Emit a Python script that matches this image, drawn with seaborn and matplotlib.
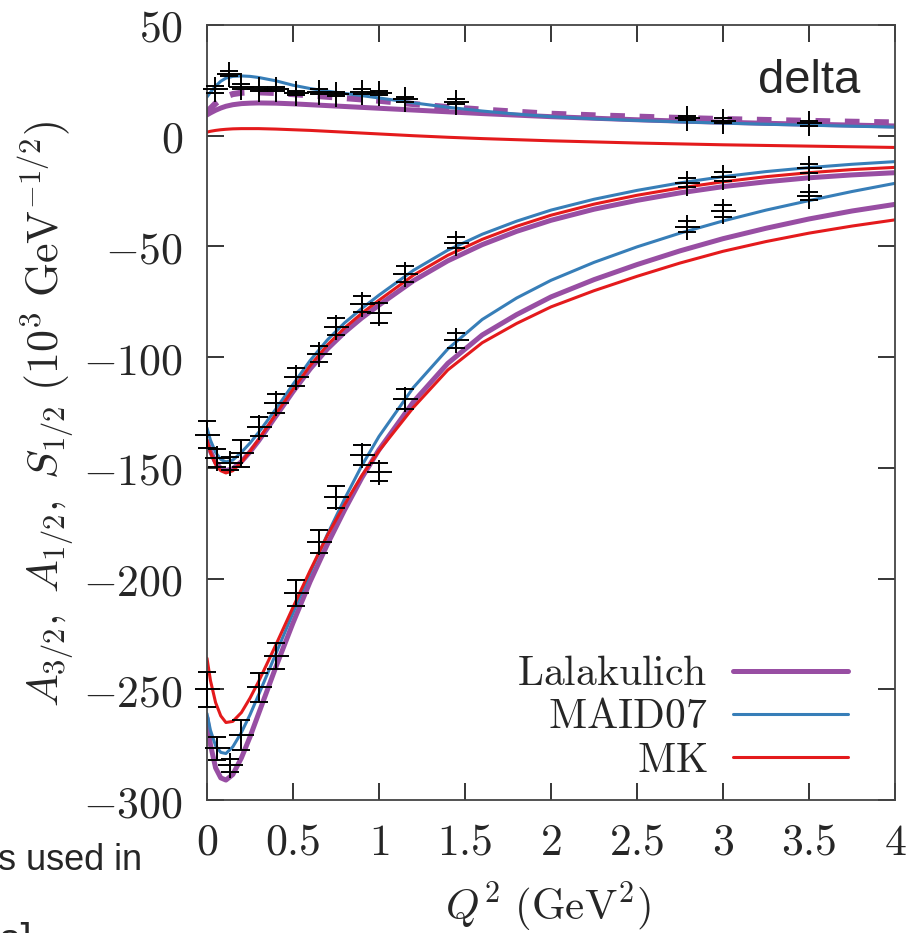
import matplotlib
matplotlib.use("Agg")
import matplotlib.pyplot as plt
from matplotlib.ticker import FuncFormatter, MultipleLocator
import seaborn as sns
import pandas as pd

# ---------------------------------------------------------------- data
# Q^2 grid (GeV^2) on which the model curves are tabulated
q2_curve = [0, 0.02, 0.05, 0.08, 0.11, 0.15, 0.2, 0.25, 0.3, 0.4, 0.5, 0.6, 0.7,
            0.8, 0.9, 1.0, 1.2, 1.4, 1.6, 1.8, 2.0, 2.25, 2.5, 2.75, 3.0, 3.25,
            3.5, 3.75, 4.0]

# S_1/2 - like (upper) curves
s_maid = [17.5, 19.6, 22.4, 24.6, 26.0, 26.8, 27.0, 26.8, 26.3, 24.8, 22.8, 21.3, 20.1,
          19.1, 18.1, 17.05, 14.85, 12.85, 11.15, 9.75, 8.6, 7.65, 6.9, 6.25, 5.7, 5.2,
          4.75, 4.3, 3.9]
s_lala_dash = [10.5, 12.3, 14.6, 16.4, 17.7, 18.8, 19.4, 19.6, 19.6, 19.3, 18.8, 18.2, 17.6,
               17.0, 16.4, 15.8, 14.3, 12.9, 11.8, 10.8, 9.9, 9.2, 8.6, 8.0, 7.5, 7.1,
               6.7, 6.3, 6.0]
s_lala = [9.4, 10.3, 11.5, 12.5, 13.3, 14.0, 14.5, 14.7, 14.8, 14.7, 14.4, 14.0, 13.6,
          13.2, 12.8, 12.4, 11.6, 10.8, 10.0, 9.3, 8.6, 7.9, 7.2, 6.6, 6.1, 5.6,
          5.2, 4.8, 4.4]
s_mk = [1.6, 2.0, 2.4, 2.7, 2.9, 3.1, 3.2, 3.2, 3.2, 3.0, 2.7, 2.4, 2.0,
        1.6, 1.2, 0.8, 0.0, -0.7, -1.3, -1.8, -2.3, -2.8, -3.3, -3.7, -4.1, -4.4,
        -4.7, -5.0, -5.3]

# A_1/2 curves
a12_maid = [-132, -137.5, -143, -146.2, -147.3, -146.5, -143, -138.8, -134, -123.5, -112.3,
            -101.5, -92.2, -84.5, -78, -72, -60.8, -51.7, -44.5, -38.6, -33.6, -28.7,
            -24.7, -21.3, -18.5, -16.2, -14.4, -12.9, -11.7]
a12_mk = [-137.4, -143, -148.5, -151.3, -152.3, -151.3, -147.5, -142.5, -137.2, -125.8,
          -114.5, -103.8, -94.5, -86.8, -80.2, -74.3, -63.0, -54.0, -46.8, -40.9, -35.9,
          -30.9, -26.9, -23.6, -20.8, -18.5, -16.7, -15.3, -14.3]
a12_lala = [-138, -142.5, -147.5, -150.3, -151.2, -150.4, -147.2, -142.8, -137.8, -126.7,
            -115.6, -105.3, -96.3, -88.8, -82.3, -76.5, -65.5, -56.5, -49.2, -43.2, -38.2,
            -33.2, -29.2, -25.8, -23.0, -20.8, -19.0, -17.7, -16.7]

# A_3/2 curves
a32_maid = [-261, -268.5, -275.5, -278.5, -279, -276, -269.5, -261.5, -252.5, -234, -215.5,
            -197.3, -180, -164, -149, -135.8, -113.7, -96.3, -83, -73.3, -65.3, -57.2,
            -50.2, -44.0, -38.5, -33.6, -29.3, -25.2, -21.5]
a32_mk = [-236, -246, -256, -262, -265, -264.5, -260.5, -254, -246.5, -230, -213, -196.3,
          -180.5, -166.5, -153.5, -142.3, -122.7, -105.8, -93.5, -84.8, -77.3, -70,
          -63.5, -57.5, -52.2, -47.8, -44, -40.8, -38]
a32_lala = [-263, -275, -285.5, -290, -291, -288.5, -281, -271.5, -261, -240, -220, -201.3,
            -184.5, -169, -154.5, -141.8, -120.2, -102.8, -90, -80.8, -72.8, -65, -58.2,
            -52, -46.5, -41.8, -37.6, -34, -31]

# measured helicity amplitudes with uncertainties
q2_s = [0.047, 0.13, 0.2, 0.3, 0.4, 0.52, 0.65, 0.75, 0.9, 1.0, 1.15, 1.45, 2.79, 3.0, 3.5]
s12_data = [21.0, 28.0, 22.1, 21.0, 21.0, 19.4, 19.9, 18.8, 19.9, 19.4, 16.4, 15.4, 7.9, 6.8, 5.6]
s12_err = [1.5, 1.2, 1.2, 0.8, 0.8, 1.0, 1.0, 1.0, 1.0, 1.0, 1.0, 1.0, 1.0, 1.0, 1.0]

q2_a = [0.0, 0.056, 0.134, 0.2, 0.3, 0.4, 0.52, 0.65, 0.75, 0.9, 1.0, 1.15, 1.45, 2.79, 3.0, 3.5]
a12_data = [-135, -145.7, -148, -143.5, -131.4, -120.9, -108.8, -98.6, -86.3, -76.0, -80.2,
            -62.5, -48.3, -21.2, -18.5, -14.8]
a12_err = [6, 4, 3, 6, 4.4, 4.4, 4.1, 3.7, 3.8, 3.7, 4.5, 3.6, 2.6, 2, 2, 2]
a32_data = [-250, -276.7, -284.3, -270.6, -249.1, -235.0, -206.4, -183.3, -163.1, -144.2,
            -151.8, -119.1, -92.3, -41, -34, -27.2]
a32_err = [8, 5.3, 3, 6.8, 6.5, 6, 5.8, 5.3, 5, 4.5, 4, 4.5, 3.4, 2.5, 2.5, 2]

models = ["Lalakulich", "MAID07", "MK"]

# ---------------------------------------------------------------- style
sns.set_style("ticks")
plt.rcParams["mathtext.fontset"] = "cm"
plt.rcParams["font.family"] = ["DejaVu Sans"]

pal = sns.color_palette("Set1")
col = {"MK": pal[0], "MAID07": pal[1], "Lalakulich": pal[3]}
lw = {"Lalakulich": 3.6, "MAID07": 2.2, "MK": 2.2}

fig = plt.figure(figsize=(9.21, 9.33), dpi=100)
ax = fig.add_axes([207 / 921, 1 - 800 / 933, 688 / 921, 775 / 933])

curves = {
    "Lalakulich": [s_lala, a12_lala, a32_lala],
    "MAID07": [s_maid, a12_maid, a32_maid],
    "MK": [s_mk, a12_mk, a32_mk],
}

handles = {}
for name in models:
    for k, vals in enumerate(curves[name]):
        df = pd.DataFrame({"Q2": q2_curve, "amp": vals})
        sns.lineplot(data=df, x="Q2", y="amp", color=col[name], lw=lw[name],
                     sort=False, estimator=None, ax=ax, legend=False)
        if k == 0:
            handles[name] = ax.lines[-1]
    if name == "Lalakulich":
        df = pd.DataFrame({"Q2": q2_curve, "amp": s_lala_dash})
        sns.lineplot(data=df, x="Q2", y="amp", color=col[name], lw=4.4,
                     sort=False, estimator=None, ax=ax, legend=False)
        ax.lines[-1].set_dashes((2.4, 2.4))
        ax.lines[-1].set_dash_capstyle("butt")

for q, v, e in [(q2_s, s12_data, s12_err), (q2_a, a12_data, a12_err),
                (q2_a, a32_data, a32_err)]:
    ax.errorbar(q, v, yerr=e, fmt="+", color="black", ms=18, mew=1.4,
                elinewidth=1.4, capsize=6.5, capthick=1.4, clip_on=False, zorder=5)

# ---------------------------------------------------------------- axes
ax.set_xlim(0, 4)
ax.set_ylim(-300, 50)
ax.xaxis.set_major_locator(MultipleLocator(0.5))
ax.yaxis.set_major_locator(MultipleLocator(50))
fmt = FuncFormatter(lambda v, p: f"${v:g}$")
ax.xaxis.set_major_formatter(fmt)
ax.yaxis.set_major_formatter(fmt)
ax.tick_params(direction="in", length=12.5, width=1.1, color="black",
               top=True, right=True, labelsize=31.5)
ax.tick_params(axis="x", pad=15)
ax.tick_params(axis="y", pad=17)
for sp in ax.spines.values():
    sp.set_visible(True)
    sp.set_color("#444444")
    sp.set_linewidth(1.3)
ax.set_xlabel("")
ax.set_ylabel("")

fig.text(548 / 921, 1 - 907 / 933, r"$Q^2\ (\mathrm{GeV}^2)$", fontsize=31,
         ha="center", va="center")
fig.text(47 / 921, 1 - 414 / 933,
         r"$A_{3/2},\ A_{1/2},\ S_{1/2}\ (10^3\ \mathrm{GeV}^{-1/2})$",
         fontsize=31.5, rotation=90, ha="center", va="center")

leg = ax.legend([handles[m] for m in models],
                [r"$\mathrm{" + m + "}$" for m in models],
                loc="lower right", bbox_to_anchor=(0.9317, 0.025),
                markerfirst=False, frameon=False, fontsize=30,
                handlelength=2.75, handletextpad=0.62, labelspacing=0.03,
                borderpad=0, borderaxespad=0)

fig.text(758 / 921, 1 - 93 / 933, "delta", fontsize=34, va="baseline",
         family=["Liberation Sans", "DejaVu Sans"])
fig.text(-2 / 921, 1 - 870 / 933, "s used in", fontsize=26, va="baseline",
         family=["Liberation Sans", "DejaVu Sans"])
fig.text(-2 / 921, 1 - 952 / 933, "a]", fontsize=29, va="baseline",
         family=["Liberation Sans", "DejaVu Sans"])

fig.savefig("out.png", dpi=100)
